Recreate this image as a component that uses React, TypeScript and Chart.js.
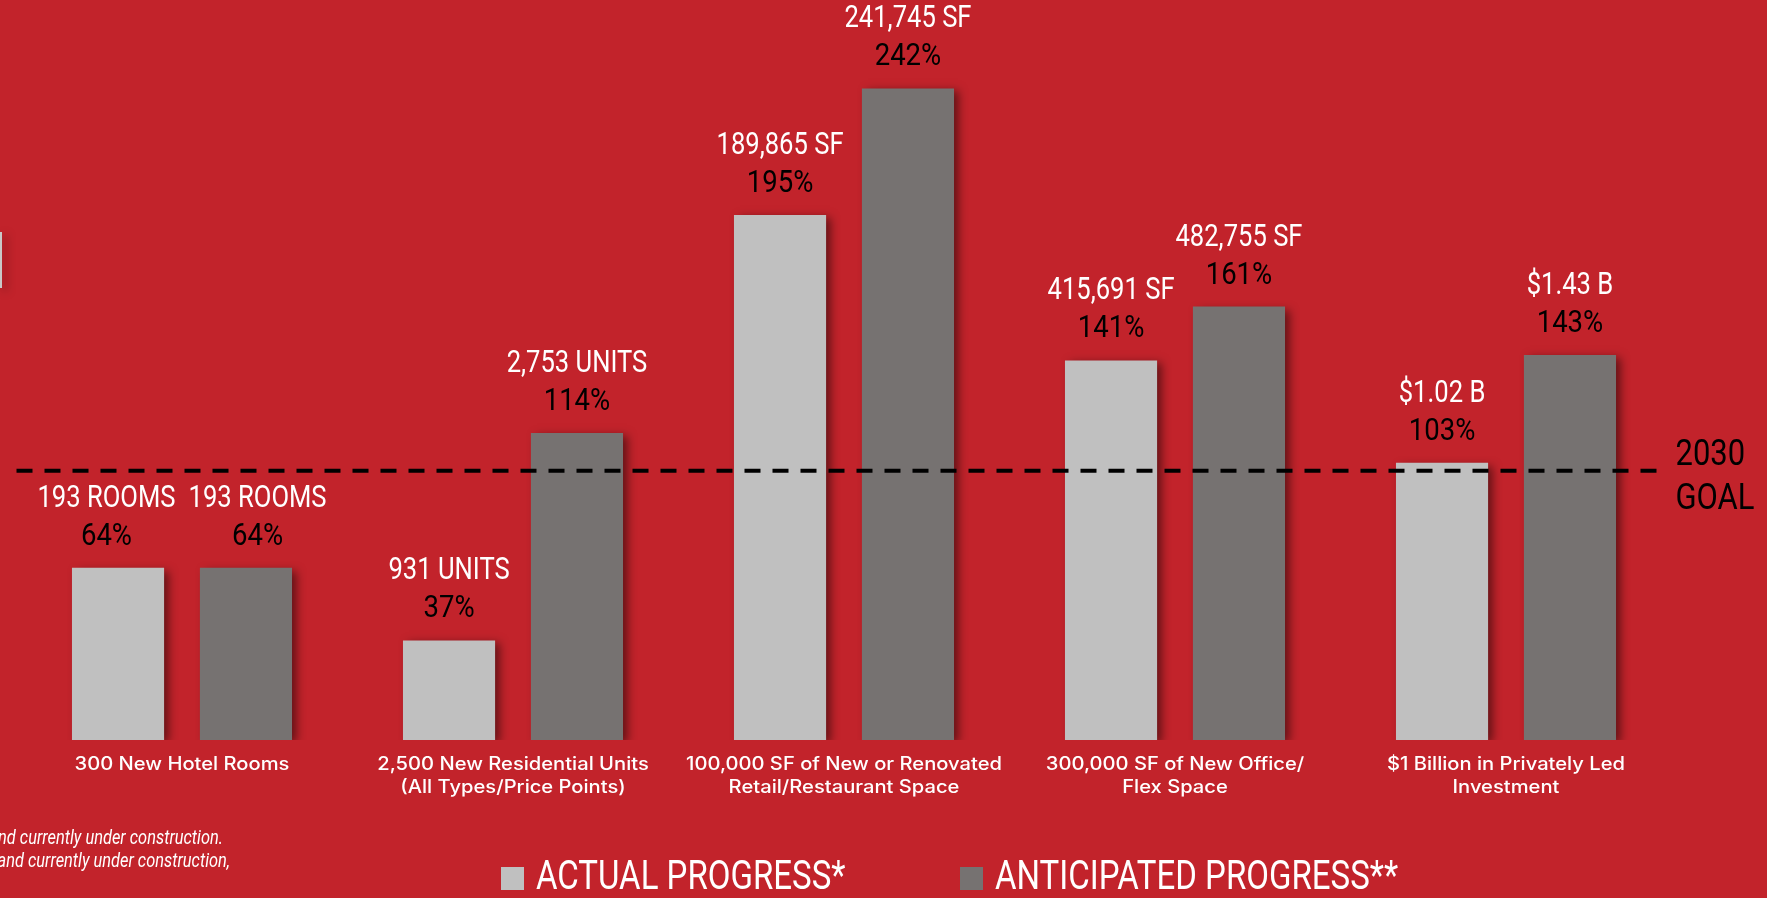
import React, { useEffect, useRef } from "react";
import { Chart, registerables } from "chart.js";

Chart.register(...registerables);

const categories: string[][] = [
  ["300 New Hotel Rooms"],
  ["2,500 New Residential Units", "(All Types/Price Points)"],
  ["100,000 SF of New or Renovated", "Retail/Restaurant Space"],
  ["300,000 SF of New Office/", "Flex Space"],
  ["$1 Billion in Privately Led", "Investment"],
];
const actualPct = [64, 37, 195, 141, 103];
const anticipatedPct = [64, 114, 242, 161, 143];
const actualLabels = ["193 ROOMS", "931 UNITS", "189,865 SF", "415,691 SF", "$1.02 B"];
const anticipatedLabels = ["193 ROOMS", "2,753 UNITS", "241,745 SF", "482,755 SF", "$1.43 B"];
const seriesNames = ["ACTUAL PROGRESS*", "ANTICIPATED PROGRESS**"];
const goalValue = 100;
const goalText = ["2030", "GOAL"];
const footnotes = ["nd currently under construction.", "and currently under construction,"];

const BG = "#C2232B";
const LIGHT = "#C0C0C0";
const DARK = "#767271";
const COND = "Roboto, 'Liberation Sans', sans-serif";
const VAL_FONT = `400 32px ${COND}`;
const VAL_SX = 0.8;
const PCT_SX = 0.86;

function condText(
  ctx: CanvasRenderingContext2D,
  text: string,
  x: number,
  y: number,
  font: string,
  color: string,
  align: CanvasTextAlign,
  sx: number
) {
  ctx.save();
  ctx.translate(x, y);
  ctx.scale(sx, 1);
  ctx.font = font;
  ctx.fillStyle = color;
  ctx.textAlign = align;
  ctx.textBaseline = "middle";
  ctx.fillText(text, 0, 0);
  ctx.restore();
}

function condWidth(ctx: CanvasRenderingContext2D, text: string, font: string, sx: number) {
  ctx.save();
  ctx.font = font;
  const w = ctx.measureText(text).width * sx;
  ctx.restore();
  return w;
}

const shadowPlugin = {
  id: "barShadow",
  beforeDatasetsDraw(chart: any) {
    const c = chart.ctx;
    c.save();
    c.shadowColor = "rgba(0,0,0,0.5)";
    c.shadowBlur = 9;
    c.shadowOffsetX = 5;
    c.shadowOffsetY = 3;
  },
  afterDatasetsDraw(chart: any) {
    chart.ctx.restore();
  },
};

const overlayPlugin = {
  id: "overlay",
  afterDraw(chart: any) {
    const ctx: CanvasRenderingContext2D = chart.ctx;
    const area = chart.chartArea;
    const x = chart.scales.x;
    const y = chart.scales.y;

    // goal line
    const gy = y.getPixelForValue(goalValue);
    ctx.save();
    ctx.strokeStyle = "#000";
    ctx.lineWidth = 4;
    ctx.setLineDash([16, 12]);
    ctx.beginPath();
    ctx.moveTo(area.left, gy);
    ctx.lineTo(area.right - 14, gy);
    ctx.stroke();
    ctx.restore();
    condText(ctx, goalText[0], area.right + 4, gy - 15, `400 36px ${COND}`, "#000", "left", 0.86);
    condText(ctx, goalText[1], area.right + 4, gy + 29, `400 36px ${COND}`, "#000", "left", 0.86);

    // bar labels (pushed apart only when the two labels of a group sit at the same height and collide)
    const labelSets = [actualLabels, anticipatedLabels];
    const m0 = chart.getDatasetMeta(0);
    const m1 = chart.getDatasetMeta(1);
    m0.data.forEach((b0: any, i: number) => {
      const b1 = m1.data[i];
      const w0 = condWidth(ctx, labelSets[0][i], VAL_FONT, VAL_SX);
      const w1 = condWidth(ctx, labelSets[1][i], VAL_FONT, VAL_SX);
      const need = (w0 + w1) / 2 + 13;
      const have = b1.x - b0.x;
      const sameRow = Math.abs(b0.y - b1.y) < 34;
      const push = sameRow && have < need ? (need - have) / 2 : 0;
      const bars = [
        { bar: b0, dx: -push },
        { bar: b1, dx: push },
      ];
      bars.forEach((o, di) => {
        const top = o.bar.y;
        const cx = o.bar.x + o.dx;
        condText(ctx, labelSets[di][i], cx, top - 69, VAL_FONT, "#fff", "center", VAL_SX);
        const pct = chart.data.datasets[di].data[i] + "%";
        condText(ctx, pct, cx, top - 31, VAL_FONT, "#000", "center", PCT_SX);
      });
    });

    // category labels
    categories.forEach((lines, i) => {
      const cx = x.getPixelForValue(i);
      lines.forEach((ln, li) => {
        condText(ctx, ln, cx, area.bottom + 25 + li * 23, "500 18px Inter, 'Open Sans', sans-serif", "#fff", "center", 1.12);
      });
    });

    // legend
    const legendX = [501, 960];
    const colors = [LIGHT, DARK];
    seriesNames.forEach((name, i) => {
      ctx.fillStyle = colors[i];
      ctx.fillRect(legendX[i], 867, 23, 23);
      condText(ctx, name, legendX[i] + 35, 879, `400 41px ${COND}`, "#fff", "left", 0.805);
    });

    // footnotes
    condText(ctx, footnotes[0], 223, 839, `italic 400 20px ${COND}`, "#fff", "right", 0.82);
    condText(ctx, footnotes[1], 230, 862, `italic 400 20px ${COND}`, "#fff", "right", 0.82);
  },
};

export default function App() {
  const ref = useRef<HTMLCanvasElement>(null);
  useEffect(() => {
    document.body.style.margin = "0";
    const chart = new Chart(ref.current as HTMLCanvasElement, {
      type: "bar",
      data: {
        labels: categories.map((c) => c.join(" ")),
        datasets: [
          {
            label: seriesNames[0],
            data: actualPct,
            backgroundColor: LIGHT,
            borderWidth: 0,
            barPercentage: 0.72,
            categoryPercentage: 0.773,
          },
          {
            label: seriesNames[1],
            data: anticipatedPct,
            backgroundColor: DARK,
            borderWidth: 0,
            barPercentage: 0.72,
            categoryPercentage: 0.773,
          },
        ],
      },
      options: {
        responsive: false,
        animation: false,
        devicePixelRatio: 1,
        layout: { padding: { top: 40, bottom: 158, left: 16.5, right: 95.5 } },
        scales: {
          x: { display: false },
          y: { display: false, min: 0, max: 260 },
        },
        plugins: {
          legend: { display: false },
          tooltip: { enabled: false },
        },
      },
      plugins: [shadowPlugin, overlayPlugin],
    });
    return () => chart.destroy();
  }, []);

  return (
    <div
      style={{
        position: "fixed",
        left: 0,
        top: 0,
        width: 1767,
        height: 898,
        background: BG,
        overflow: "hidden",
      }}
    >
      <div
        style={{
          position: "absolute",
          left: 0,
          top: 232,
          width: 2,
          height: 56,
          background: "#C8C8C8",
          boxShadow: "4px 3px 8px rgba(0,0,0,0.5)",
        }}
      />
      <canvas ref={ref} width={1767} height={898} style={{ position: "absolute", left: 0, top: 0 }} />
    </div>
  );
}
